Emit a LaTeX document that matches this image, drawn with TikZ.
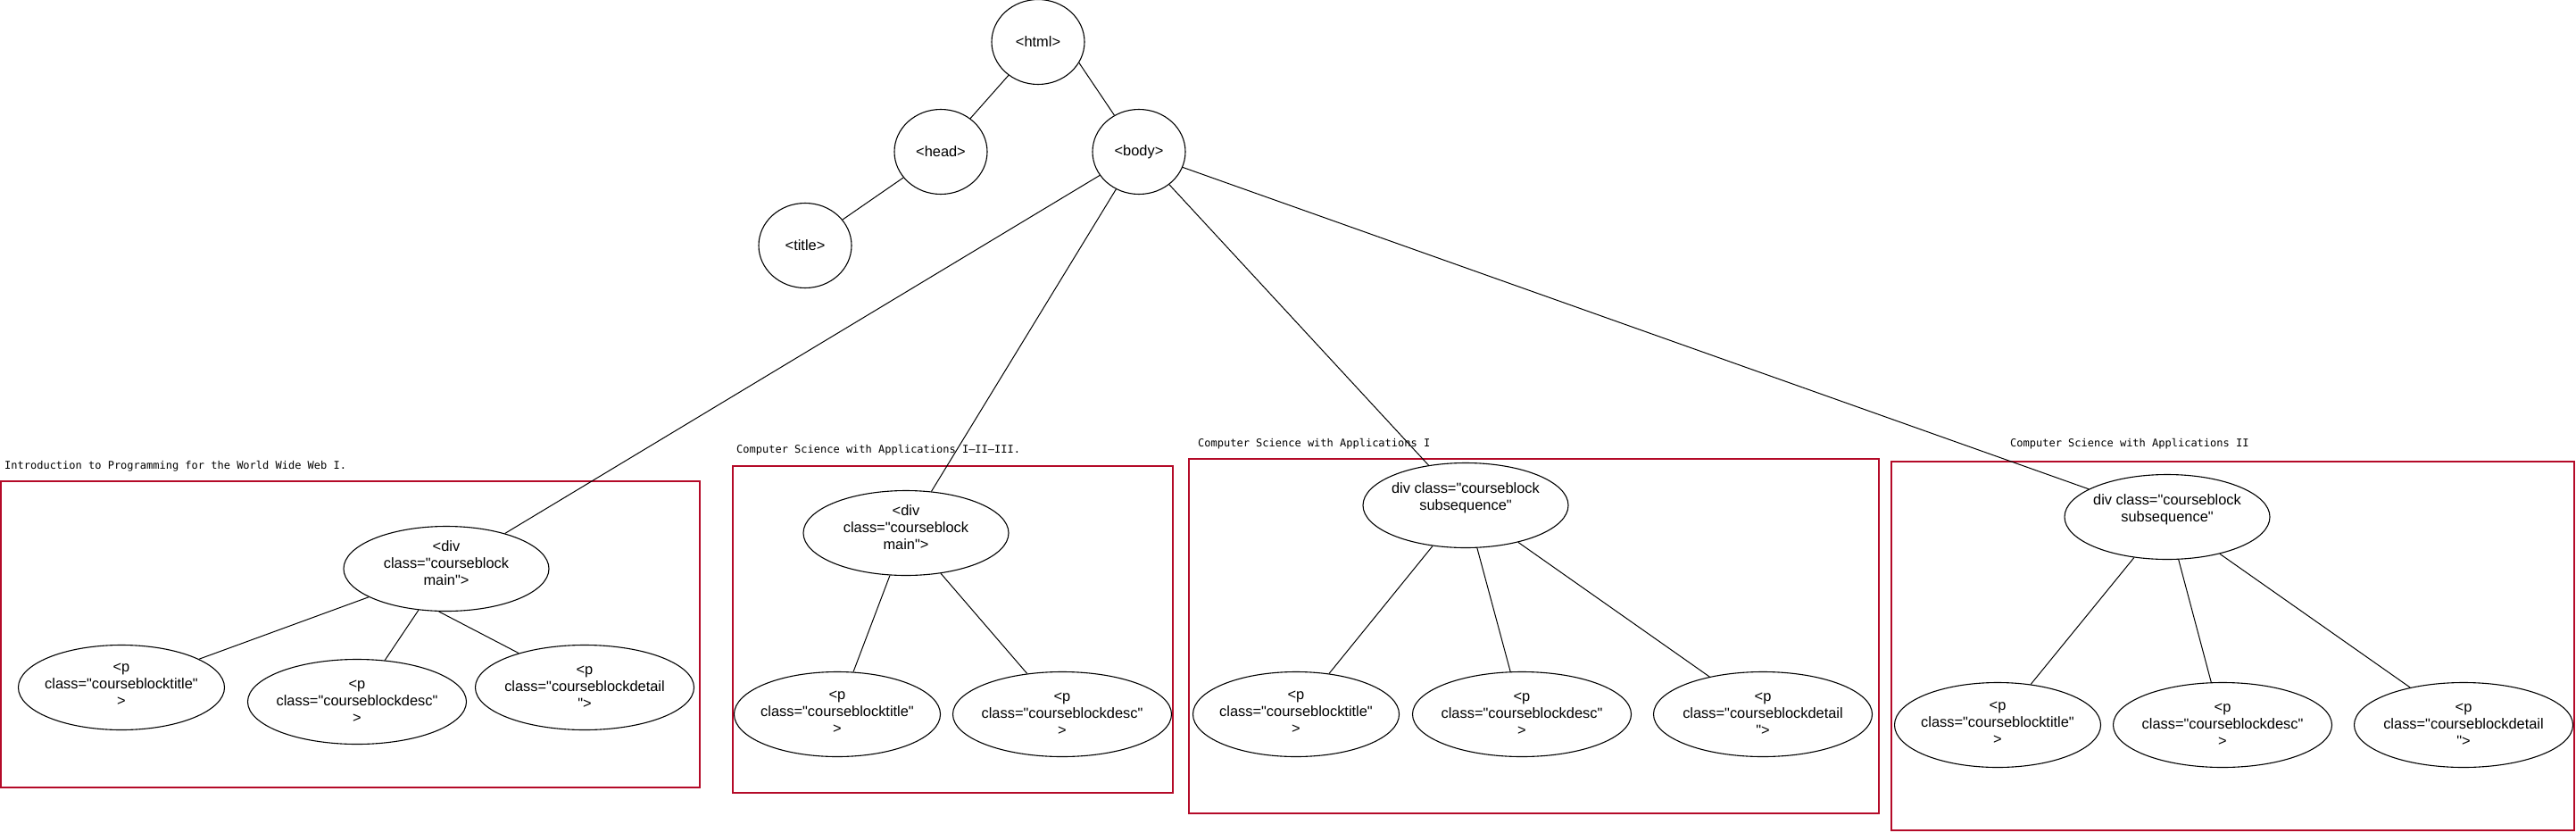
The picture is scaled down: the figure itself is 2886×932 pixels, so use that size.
\documentclass[tikz,border=0pt]{standalone}
\usepackage{fontspec}
\newfontfamily\nodefont{Liberation Sans}
\newfontfamily\capfont{DejaVu Sans Mono}
\usetikzlibrary{shapes.geometric}
\definecolor{boxred}{RGB}{180,10,40}
\begin{document}
\begin{tikzpicture}[x=1pt,y=-1pt,
  every node/.style={inner sep=0pt},
  circ/.style={draw, ellipse, line width=1.1pt, minimum width=104pt, minimum height=95pt, font=\nodefont\fontsize{16.4}{19}\selectfont},
  oval/.style={draw, ellipse, line width=1.1pt, minimum height=95pt},
  divw/.style={oval, minimum width=230pt},
  ptitle/.style={oval, minimum width=231pt},
  pwide/.style={oval, minimum width=245pt},
  txt/.style={align=center, font=\nodefont\fontsize{16.4}{19}\selectfont},
  captext/.style={anchor=west, font=\capfont\fontsize{12}{14}\selectfont},
  redbox/.style={draw=boxred, line width=1.3pt},
  conn/.style={line width=1pt}]
\useasboundingbox (0,0) rectangle (2886,932);

% red frames
\draw[redbox] (1,539) rectangle (784,882);
\draw[redbox] (821,522) rectangle (1314,888);
\draw[redbox] (1332,514) rectangle (2105,911);
\draw[redbox] (2119,517) rectangle (2884,930);

% captions
\node[captext] (lab1) at (5,522) {Introduction to Programming for the World Wide Web I.};
\node[captext] (lab2) at (825,504) {Computer Science with Applications I–II–III.};
\node[captext] (lab3) at (1342,497) {Computer Science with Applications I};
\node[captext] (lab4) at (2252,497) {Computer Science with Applications II};

% top tree
\node[circ] (html) at (1163,47) {<html>};
\node[circ] (head) at (1054,170) {<head>};
\node[circ] (body) at (1276,170) {<body>};
\node[circ] (title) at (902,275) {<title>};

% block 1
\node[divw, label={[txt, yshift=6pt]center:{<div\\class="courseblock\\main">}}] (div1) at (500,637) {};
\node[ptitle, label={[txt, yshift=3pt]center:{<p\\class="courseblocktitle"\\>}}] (p1a) at (136,770) {};
\node[pwide, label={[txt]center:{<p\\class="courseblockdesc"\\>}}] (p1b) at (400,786) {};
\node[pwide, label={[txt]center:{<p\\class="courseblockdetail\\">}}] (p1c) at (655,770) {};

% block 2
\node[divw, label={[txt, yshift=6pt]center:{<div\\class="courseblock\\main">}}] (div2) at (1015,597) {};
\node[ptitle, label={[txt, yshift=2pt]center:{<p\\class="courseblocktitle"\\>}}] (p2a) at (938,800) {};
\node[pwide, label={[txt]center:{<p\\class="courseblockdesc"\\>}}] (p2b) at (1190,800) {};

% block 3
\node[divw, label={[txt, yshift=8pt]center:{div class="courseblock\\subsequence"}}] (div3) at (1642,566) {};
\node[ptitle, label={[txt, yshift=2pt]center:{<p\\class="courseblocktitle"\\>}}] (p3a) at (1452,800) {};
\node[pwide, label={[txt]center:{<p\\class="courseblockdesc"\\>}}] (p3b) at (1705,800) {};
\node[pwide, label={[txt]center:{<p\\class="courseblockdetail\\">}}] (p3c) at (1975,800) {};

% block 4
\node[divw, label={[txt, yshift=8pt]center:{div class="courseblock\\subsequence"}}] (div4) at (2428,579) {};
\node[ptitle, label={[txt, yshift=2pt]center:{<p\\class="courseblocktitle"\\>}}] (p4a) at (2238,812) {};
\node[pwide, label={[txt]center:{<p\\class="courseblockdesc"\\>}}] (p4b) at (2490,812) {};
\node[pwide, label={[txt]center:{<p\\class="courseblockdetail\\">}}] (p4c) at (2760,812) {};

% connectors
\draw[conn] (html) -- (head);
\draw[conn] (html.-27) -- (body);
\draw[conn] (head) -- (title);
\draw[conn] (body) -- (div1);
\draw[conn] (body) -- (div2);
\draw[conn] (body) -- (div3);
\draw[conn] (body) -- (div4);
\draw[conn] (div1) -- (p1a);
\draw[conn] (div1) -- (p1b);
\draw[conn] (div1.-100) -- (p1c);
\draw[conn] (div2) -- (p2a);
\draw[conn] (div2) -- (p2b);
\draw[conn] (div3) -- (p3a);
\draw[conn] (div3) -- (p3b);
\draw[conn] (div3) -- (p3c);
\draw[conn] (div4) -- (p4a);
\draw[conn] (div4) -- (p4b);
\draw[conn] (div4) -- (p4c);
\end{tikzpicture}
\end{document}
